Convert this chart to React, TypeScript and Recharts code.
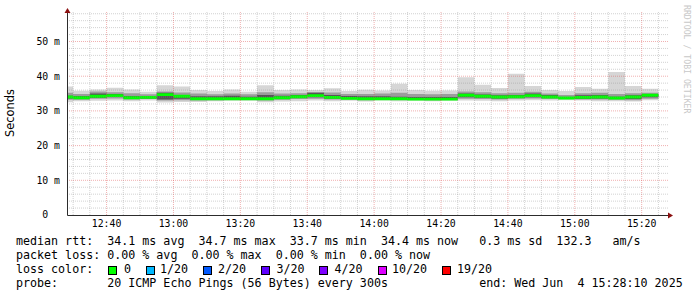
import React from 'react';
import { ComposedChart, Area, XAxis, YAxis, ReferenceLine } from 'recharts';

// 5-minute consolidation steps (start time of each step)
const stepStart = [
  '12:25', '12:30', '12:35', '12:40', '12:45', '12:50', '12:55', '13:00', '13:05', '13:10',
  '13:15', '13:20', '13:25', '13:30', '13:35', '13:40', '13:45', '13:50', '13:55', '14:00',
  '14:05', '14:10', '14:15', '14:20', '14:25', '14:30', '14:35', '14:40', '14:45', '14:50',
  '14:55', '15:00', '15:05', '15:10', '15:15', '15:20',
];
const lastStepEnd = '15:25';

// median rtt (ms)
const medianRtt = [
  34.0, 33.8, 34.2, 34.4, 33.8, 33.9, 34.7, 34.2, 33.5, 33.5,
  33.5, 33.5, 33.5, 33.8, 34.1, 34.4, 33.9, 33.6, 33.5, 33.5,
  33.5, 33.4, 33.4, 33.4, 34.5, 34.2, 34.0, 34.1, 34.4, 34.0,
  33.7, 33.9, 34.0, 33.7, 34.0, 34.5,
];
// slowest ping (top of smoke)
const maxRtt = [
  37.0, 35.8, 36.2, 36.7, 36.2, 35.5, 37.4, 37.0, 36.0, 35.7,
  36.2, 35.5, 37.4, 36.0, 36.2, 36.0, 36.5, 35.7, 36.1, 35.9,
  37.8, 36.0, 35.8, 35.9, 39.7, 37.5, 36.6, 40.7, 37.2, 36.0,
  35.7, 36.9, 36.4, 41.2, 37.2, 36.4,
];
// fastest ping (bottom of smoke)
const minRtt = [
  32.5, 32.8, 32.9, 33.0, 32.8, 33.0, 32.4, 32.6, 32.6, 32.8,
  32.9, 32.9, 32.5, 32.7, 32.8, 33.0, 32.8, 32.9, 32.7, 33.0,
  32.8, 32.9, 32.8, 32.9, 33.0, 32.9, 32.8, 33.0, 33.1, 33.0,
  33.1, 33.0, 32.8, 32.8, 32.7, 33.1,
];
// inner smoke bands
const midLow = [
  33.2, 33.2, 33.5, 33.6, 33.3, 33.4, 33.0, 33.1, 33.0, 33.1,
  33.2, 33.2, 33.0, 33.2, 33.4, 33.5, 33.3, 33.3, 33.1, 33.3,
  33.2, 33.2, 33.1, 33.2, 33.5, 33.4, 33.3, 33.5, 33.6, 33.4,
  33.4, 33.3, 33.3, 33.2, 33.1, 33.5,
];
const midHigh = [
  35.2, 34.9, 35.6, 35.4, 35.1, 34.8, 35.6, 35.3, 35.0, 34.8,
  35.0, 34.8, 35.4, 35.0, 35.1, 35.4, 35.3, 34.9, 34.9, 35.0,
  35.2, 34.9, 34.8, 34.9, 35.6, 35.4, 35.1, 35.2, 35.5, 35.0,
  34.6, 35.1, 35.2, 34.9, 35.1, 35.2,
];
const coreLow = [
  33.6, 33.5, 33.8, 34.0, 33.6, 33.6, 33.3, 33.5, 33.3, 33.3,
  33.4, 33.4, 33.3, 33.5, 33.8, 33.9, 33.6, 33.4, 33.3, 33.4,
  33.4, 33.3, 33.3, 33.3, 33.9, 33.8, 33.6, 33.8, 33.9, 33.7,
  33.5, 33.5, 33.6, 33.4, 33.4, 33.9,
];
const coreHigh = [
  34.4, 34.3, 35.0, 34.9, 34.3, 34.3, 35.2, 34.6, 34.2, 34.2,
  34.4, 34.1, 34.6, 34.4, 34.6, 35.2, 34.6, 34.3, 34.2, 34.2,
  34.1, 34.0, 34.0, 34.0, 35.0, 34.7, 34.5, 34.6, 35.0, 34.6,
  34.0, 34.5, 34.6, 34.1, 34.5, 34.8,
];

const yTicks = [0, 10, 20, 30, 40, 50];
const yTickLabels = ['0\u00a0\u00a0', '10 m', '20 m', '30 m', '40 m', '50 m'];
const xTickLabels = ['12:40', '13:00', '13:20', '13:40', '14:00', '14:20', '14:40', '15:00', '15:20'];
const windowStart = '12:28:10';
const windowEnd = '15:28:10';

const legendRows = [
  'median rtt:  34.1 ms avg  34.7 ms max  33.7 ms min  34.4 ms now   0.3 ms sd  132.3   am/s',
  'packet loss: 0.00 % avg  0.00 % max  0.00 % min  0.00 % now',
];
const lossLabels = ['0', '1/20', '2/20', '3/20', '4/20', '10/20', '19/20'];
const lossColors = ['#00ff00', '#00b8ff', '#0059ff', '#5e00ff', '#7e00ff', '#dd00ff', '#ff0000'];
const probeText = 'probe:       20 ICMP Echo Pings (56 Bytes) every 300s';
const endText = 'end: Wed Jun  4 15:28:10 2025';

const toMin = (s: string) => {
  const p = s.split(':').map(Number);
  return p[0] * 60 + p[1] + (p[2] || 0) / 60;
};

const HALF = 0.42; // half thickness of median band (style)

const data = stepStart.map((t, i) => ({
  t: toMin(t),
  outer: [minRtt[i], maxRtt[i]],
  mid: [midLow[i], midHigh[i]],
  core: [coreLow[i], coreHigh[i]],
  med: [medianRtt[i] - HALF, medianRtt[i] + HALF],
}));
{
  const last = data[data.length - 1];
  data.push({ ...last, t: toMin(lastStepEnd) });
}

const xMin = toMin(windowStart);
const xMax = toMin(windowEnd);
const xTicks = xTickLabels.map(toMin);

const minorY: number[] = [];
for (let v = 2; v <= 58; v += 2) if (v % 10 !== 0) minorY.push(v);
const majorY = [10, 20, 30, 40, 50];
const minorX: number[] = [];
for (let v = toMin('12:30'); v <= xMax; v += 5) if (!xTicks.includes(v)) minorX.push(v);

const MONO = '"DejaVu Sans Mono", monospace';
const GRID = '#8f8f8f';
const MGRID = '#de5050';

export default function App() {
  return (
    <div style={{ position: 'absolute', left: 0, top: 0, width: 697, height: 297, background: '#fff', overflow: 'hidden' }}>
      <div style={{ position: 'absolute', left: 0, top: 0 }}>
        <ComposedChart width={697} height={297} data={data} margin={{ top: 12, right: 28, left: 0, bottom: 62 }}>
          <XAxis
            dataKey="t"
            type="number"
            domain={[xMin, xMax]}
            allowDataOverflow
            ticks={xTicks}
            tickFormatter={(v: number) => xTickLabels[xTicks.indexOf(v)] ?? ''}
            tickLine={false}
            tickSize={0}
            tickMargin={5}
            axisLine={false}
            height={20}
            tick={{ fontFamily: MONO, fontSize: 9.8, fill: '#000' }}
            interval={0}
          />
          <YAxis
            type="number"
            domain={[0, 58.5]}
            allowDataOverflow
            ticks={yTicks}
            tickFormatter={(v: number) => yTickLabels[yTicks.indexOf(v)] ?? ''}
            tickLine={false}
            tickSize={0}
            tickMargin={7}
            axisLine={false}
            width={67}
            tick={{ fontFamily: MONO, fontSize: 9.8, fill: '#000' }}
            interval={0}
          />
          <Area dataKey="outer" type="stepAfter" fill="#d6d6d6" fillOpacity={1} stroke="none" isAnimationActive={false} />
          <Area dataKey="mid" type="stepAfter" fill="#9c9c9c" fillOpacity={1} stroke="none" isAnimationActive={false} />
          <Area dataKey="core" type="stepAfter" fill="#565656" fillOpacity={1} stroke="none" isAnimationActive={false} />
          <Area dataKey="med" type="stepAfter" fill="#00ff00" fillOpacity={1} stroke="none" isAnimationActive={false} />
          {minorY.map((v) => (
            <ReferenceLine key={'my' + v} y={v} stroke={GRID} strokeOpacity={0.4} strokeDasharray="1 1" />
          ))}
          {minorX.map((v) => (
            <ReferenceLine key={'mx' + v} x={v} stroke={GRID} strokeOpacity={0.4} strokeDasharray="1 1" />
          ))}
          {majorY.map((v) => (
            <ReferenceLine key={'My' + v} y={v} stroke={MGRID} strokeOpacity={0.45} strokeDasharray="1 1" />
          ))}
          {xTicks.map((v) => (
            <ReferenceLine key={'Mx' + v} x={v} stroke={MGRID} strokeOpacity={0.45} strokeDasharray="1 1" />
          ))}
        </ComposedChart>
      </div>
      {/* axes and arrows */}
      <svg width={697} height={297} style={{ position: 'absolute', left: 0, top: 0, pointerEvents: 'none' }}>
        <line x1={67.5} y1={215.5} x2={670} y2={215.5} stroke="#2c2c2c" strokeWidth={1} />
        <line x1={67.5} y1={215.5} x2={67.5} y2={11} stroke="#2c2c2c" strokeWidth={1} />
        <polygon points="668,212.5 673,215.5 668,218.5" fill="#8b1010" />
        <polygon points="64.5,13 67.5,8 70.5,13" fill="#8b1010" />
        <text
          x={0}
          y={0}
          transform="translate(14.3,113) rotate(-90)"
          textAnchor="middle"
          fontFamily='"DejaVu Sans", sans-serif'
          fontSize={11.4}
          fill="#000"
        >
          Seconds
        </text>
        <text
          x={0}
          y={0}
          transform="translate(684,5) rotate(90)"
          textAnchor="start"
          fontFamily={MONO}
          fontSize={8.2}
          fill="#c8c8c8"
        >
          RRDTOOL / TOBI OETIKER
        </text>
      </svg>
      {/* legend */}
      <div style={{ position: 'absolute', left: 16, top: 234, fontFamily: MONO, fontSize: 11.66, lineHeight: '14px', whiteSpace: 'pre', color: '#000' }}>
        <div>{legendRows[0]}</div>
        <div>{legendRows[1]}</div>
        <div>loss color:</div>
        <div>{probeText + '             ' + endText}</div>
      </div>
      {lossLabels.map((lab, i) => {
        const boxX = [108, 145.5, 203, 261, 319, 377.5, 442][i];
        const textX = [124, 160, 218, 276.5, 334.5, 392, 457][i];
        return (
          <React.Fragment key={lab}>
            <div style={{ position: 'absolute', left: boxX, top: 265.5, width: 7, height: 7, border: '1px solid #000', background: lossColors[i] }} />
            <div style={{ position: 'absolute', left: textX, top: 262, fontFamily: MONO, fontSize: 11.66, lineHeight: '14px', whiteSpace: 'pre', color: '#000' }}>{lab}</div>
          </React.Fragment>
        );
      })}
    </div>
  );
}
